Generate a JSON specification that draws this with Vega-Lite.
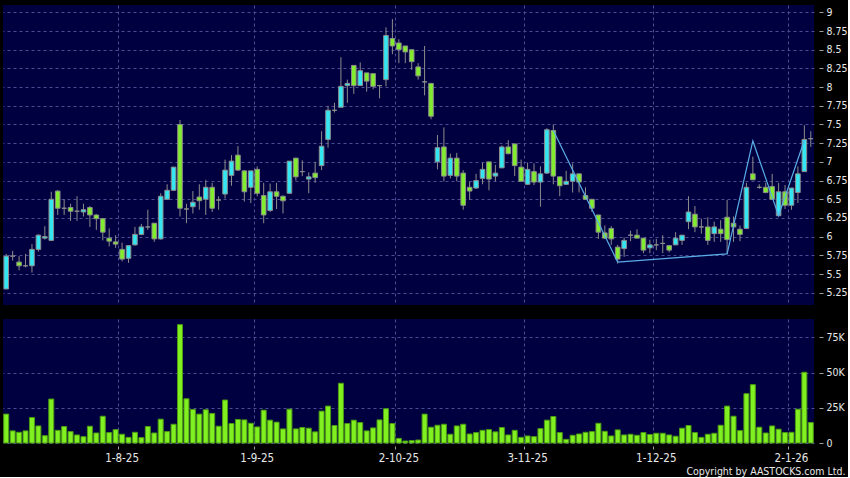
{
  "$schema": "https://vega.github.io/schema/vega-lite/v6.json",
  "background": "#000000",
  "padding": {"left": 3, "top": 5, "right": 0, "bottom": 0},
  "spacing": 14,
  "config": {
    "font": "DejaVu Sans Condensed",
    "view": {"fill": "#000040", "stroke": null},
    "axis": {"labelFont": "DejaVu Sans Condensed", "labelColor": "#e8e8e8", "gridColor": "#4c4c94", "gridDash": [3, 3], "gridWidth": 1, "domain": false, "tickColor": "#a0a0a0", "labelOverlap": false}
  },
  "data": {"values": [
    {"date": "8-7-25", "open": 5.30, "high": 5.77, "low": 5.30, "close": 5.74, "volume": 20500},
    {"date": "9-7-25", "open": 5.74, "high": 5.81, "low": 5.68, "close": 5.74, "volume": 8600},
    {"date": "10-7-25", "open": 5.66, "high": 5.74, "low": 5.55, "close": 5.61, "volume": 7600},
    {"date": "11-7-25", "open": 5.61, "high": 5.77, "low": 5.59, "close": 5.61, "volume": 8600},
    {"date": "14-7-25", "open": 5.61, "high": 5.90, "low": 5.52, "close": 5.83, "volume": 18100},
    {"date": "15-7-25", "open": 5.83, "high": 6.03, "low": 5.80, "close": 6.02, "volume": 12100},
    {"date": "16-7-25", "open": 5.98, "high": 6.14, "low": 5.96, "close": 6.00, "volume": 5200},
    {"date": "17-7-25", "open": 5.95, "high": 6.60, "low": 5.94, "close": 6.50, "volume": 31200},
    {"date": "18-7-25", "open": 6.61, "high": 6.62, "low": 6.29, "close": 6.38, "volume": 9000},
    {"date": "21-7-25", "open": 6.38, "high": 6.50, "low": 6.29, "close": 6.38, "volume": 11700},
    {"date": "22-7-25", "open": 6.39, "high": 6.44, "low": 6.21, "close": 6.34, "volume": 8100},
    {"date": "23-7-25", "open": 6.34, "high": 6.54, "low": 6.21, "close": 6.34, "volume": 5700},
    {"date": "24-7-25", "open": 6.33, "high": 6.44, "low": 6.27, "close": 6.36, "volume": 4500},
    {"date": "25-7-25", "open": 6.39, "high": 6.41, "low": 6.13, "close": 6.29, "volume": 11900},
    {"date": "28-7-25", "open": 6.29, "high": 6.30, "low": 6.09, "close": 6.24, "volume": 7100},
    {"date": "29-7-25", "open": 6.24, "high": 6.25, "low": 5.95, "close": 6.06, "volume": 19000},
    {"date": "30-7-25", "open": 5.98, "high": 6.11, "low": 5.87, "close": 5.94, "volume": 7400},
    {"date": "31-7-25", "open": 5.93, "high": 6.02, "low": 5.85, "close": 5.90, "volume": 9500},
    {"date": "1-8-25", "open": 5.83, "high": 5.92, "low": 5.67, "close": 5.70, "volume": 6200},
    {"date": "4-8-25", "open": 5.71, "high": 5.88, "low": 5.65, "close": 5.88, "volume": 4000},
    {"date": "5-8-25", "open": 5.89, "high": 6.13, "low": 5.88, "close": 6.03, "volume": 7600},
    {"date": "6-8-25", "open": 6.03, "high": 6.17, "low": 6.02, "close": 6.13, "volume": 3800},
    {"date": "7-8-25", "open": 6.13, "high": 6.36, "low": 6.09, "close": 6.13, "volume": 11700},
    {"date": "8-8-25", "open": 6.18, "high": 6.18, "low": 5.93, "close": 5.97, "volume": 7100},
    {"date": "11-8-25", "open": 5.97, "high": 6.58, "low": 5.96, "close": 6.54, "volume": 16900},
    {"date": "12-8-25", "open": 6.50, "high": 6.70, "low": 6.49, "close": 6.62, "volume": 8100},
    {"date": "13-8-25", "open": 6.62, "high": 6.93, "low": 6.61, "close": 6.93, "volume": 13300},
    {"date": "14-8-25", "open": 7.50, "high": 7.56, "low": 6.27, "close": 6.38, "volume": 84000},
    {"date": "15-8-25", "open": 6.37, "high": 6.44, "low": 6.18, "close": 6.37, "volume": 31400},
    {"date": "18-8-25", "open": 6.40, "high": 6.61, "low": 6.31, "close": 6.46, "volume": 23800},
    {"date": "19-8-25", "open": 6.53, "high": 6.70, "low": 6.36, "close": 6.48, "volume": 20500},
    {"date": "20-8-25", "open": 6.50, "high": 6.76, "low": 6.29, "close": 6.66, "volume": 23600},
    {"date": "21-8-25", "open": 6.66, "high": 6.72, "low": 6.33, "close": 6.38, "volume": 21000},
    {"date": "22-8-25", "open": 6.49, "high": 6.54, "low": 6.36, "close": 6.49, "volume": 11900},
    {"date": "25-8-25", "open": 6.57, "high": 7.03, "low": 6.51, "close": 6.89, "volume": 30500},
    {"date": "26-8-25", "open": 6.82, "high": 7.09, "low": 6.68, "close": 7.01, "volume": 13800},
    {"date": "27-8-25", "open": 7.09, "high": 7.21, "low": 6.88, "close": 6.89, "volume": 16700},
    {"date": "28-8-25", "open": 6.88, "high": 6.89, "low": 6.47, "close": 6.60, "volume": 16400},
    {"date": "29-8-25", "open": 6.66, "high": 6.88, "low": 6.45, "close": 6.88, "volume": 14000},
    {"date": "1-9-25", "open": 6.90, "high": 6.94, "low": 6.54, "close": 6.58, "volume": 11400},
    {"date": "2-9-25", "open": 6.55, "high": 6.72, "low": 6.18, "close": 6.29, "volume": 23300},
    {"date": "3-9-25", "open": 6.35, "high": 6.71, "low": 6.33, "close": 6.60, "volume": 16200},
    {"date": "4-9-25", "open": 6.60, "high": 6.72, "low": 6.37, "close": 6.54, "volume": 14800},
    {"date": "5-9-25", "open": 6.54, "high": 6.55, "low": 6.31, "close": 6.48, "volume": 10000},
    {"date": "8-9-25", "open": 6.58, "high": 7.01, "low": 6.57, "close": 7.01, "volume": 24000},
    {"date": "9-9-25", "open": 7.05, "high": 7.05, "low": 6.75, "close": 6.80, "volume": 10000},
    {"date": "10-9-25", "open": 6.87, "high": 7.02, "low": 6.81, "close": 6.87, "volume": 11000},
    {"date": "11-9-25", "open": 6.77, "high": 6.86, "low": 6.58, "close": 6.80, "volume": 10500},
    {"date": "12-9-25", "open": 6.85, "high": 7.00, "low": 6.72, "close": 6.79, "volume": 7900},
    {"date": "15-9-25", "open": 6.95, "high": 7.41, "low": 6.89, "close": 7.21, "volume": 22600},
    {"date": "16-9-25", "open": 7.30, "high": 7.75, "low": 7.19, "close": 7.69, "volume": 26200},
    {"date": "17-9-25", "open": 7.69, "high": 7.79, "low": 7.66, "close": 7.69, "volume": 12400},
    {"date": "18-9-25", "open": 7.73, "high": 8.40, "low": 7.73, "close": 8.01, "volume": 42400},
    {"date": "19-9-25", "open": 8.02, "high": 8.10, "low": 7.79, "close": 8.05, "volume": 13800},
    {"date": "22-9-25", "open": 8.29, "high": 8.29, "low": 7.91, "close": 8.02, "volume": 16200},
    {"date": "23-9-25", "open": 8.02, "high": 8.33, "low": 8.02, "close": 8.22, "volume": 14500},
    {"date": "24-9-25", "open": 8.19, "high": 8.19, "low": 7.94, "close": 8.08, "volume": 8600},
    {"date": "25-9-25", "open": 8.18, "high": 8.18, "low": 7.97, "close": 8.01, "volume": 10700},
    {"date": "26-9-25", "open": 8.02, "high": 8.02, "low": 7.85, "close": 8.02, "volume": 16400},
    {"date": "29-9-25", "open": 8.10, "high": 8.80, "low": 8.01, "close": 8.69, "volume": 24300},
    {"date": "30-9-25", "open": 8.65, "high": 8.91, "low": 8.44, "close": 8.55, "volume": 13800},
    {"date": "2-10-25", "open": 8.59, "high": 8.64, "low": 8.32, "close": 8.50, "volume": 3300},
    {"date": "3-10-25", "open": 8.55, "high": 8.55, "low": 8.32, "close": 8.47, "volume": 1400},
    {"date": "6-10-25", "open": 8.50, "high": 8.50, "low": 8.23, "close": 8.34, "volume": 1700},
    {"date": "8-10-25", "open": 8.27, "high": 8.32, "low": 8.10, "close": 8.15, "volume": 2100},
    {"date": "9-10-25", "open": 8.07, "high": 8.55, "low": 7.89, "close": 8.07, "volume": 20500},
    {"date": "10-10-25", "open": 8.05, "high": 8.05, "low": 7.57, "close": 7.61, "volume": 11200},
    {"date": "13-10-25", "open": 7.00, "high": 7.36, "low": 6.90, "close": 7.19, "volume": 12600},
    {"date": "14-10-25", "open": 7.20, "high": 7.46, "low": 6.74, "close": 6.81, "volume": 13300},
    {"date": "15-10-25", "open": 6.82, "high": 7.11, "low": 6.78, "close": 7.05, "volume": 6200},
    {"date": "16-10-25", "open": 7.05, "high": 7.12, "low": 6.74, "close": 6.81, "volume": 12100},
    {"date": "17-10-25", "open": 6.85, "high": 6.89, "low": 6.36, "close": 6.42, "volume": 13300},
    {"date": "20-10-25", "open": 6.66, "high": 6.74, "low": 6.49, "close": 6.61, "volume": 6400},
    {"date": "21-10-25", "open": 6.65, "high": 6.84, "low": 6.64, "close": 6.75, "volume": 7400},
    {"date": "22-10-25", "open": 6.78, "high": 6.99, "low": 6.70, "close": 6.90, "volume": 9000},
    {"date": "23-10-25", "open": 7.00, "high": 7.00, "low": 6.62, "close": 6.77, "volume": 9500},
    {"date": "24-10-25", "open": 6.81, "high": 6.96, "low": 6.74, "close": 6.85, "volume": 7900},
    {"date": "27-10-25", "open": 6.92, "high": 7.22, "low": 6.92, "close": 7.20, "volume": 11000},
    {"date": "28-10-25", "open": 7.20, "high": 7.29, "low": 7.10, "close": 7.11, "volume": 5700},
    {"date": "30-10-25", "open": 7.24, "high": 7.24, "low": 6.81, "close": 6.95, "volume": 9000},
    {"date": "31-10-25", "open": 6.93, "high": 7.03, "low": 6.74, "close": 6.74, "volume": 4000},
    {"date": "3-11-25", "open": 6.70, "high": 6.99, "low": 6.69, "close": 6.90, "volume": 5000},
    {"date": "4-11-25", "open": 6.87, "high": 6.98, "low": 6.69, "close": 6.73, "volume": 4500},
    {"date": "5-11-25", "open": 6.73, "high": 6.94, "low": 6.40, "close": 6.84, "volume": 10200},
    {"date": "6-11-25", "open": 6.85, "high": 7.45, "low": 6.84, "close": 7.43, "volume": 16200},
    {"date": "7-11-25", "open": 7.42, "high": 7.50, "low": 6.70, "close": 6.81, "volume": 18800, "zz": 7.42},
    {"date": "10-11-25", "open": 6.80, "high": 6.80, "low": 6.54, "close": 6.68, "volume": 7400},
    {"date": "11-11-25", "open": 6.70, "high": 6.88, "low": 6.69, "close": 6.74, "volume": 2600},
    {"date": "12-11-25", "open": 6.74, "high": 6.98, "low": 6.59, "close": 6.84, "volume": 5500},
    {"date": "13-11-25", "open": 6.84, "high": 6.84, "low": 6.59, "close": 6.73, "volume": 6400},
    {"date": "14-11-25", "open": 6.55, "high": 6.66, "low": 6.50, "close": 6.50, "volume": 7600},
    {"date": "17-11-25", "open": 6.50, "high": 6.50, "low": 6.33, "close": 6.38, "volume": 8100},
    {"date": "18-11-25", "open": 6.29, "high": 6.29, "low": 5.97, "close": 6.06, "volume": 14000},
    {"date": "19-11-25", "open": 6.05, "high": 6.15, "low": 5.97, "close": 5.98, "volume": 8300},
    {"date": "20-11-25", "open": 6.11, "high": 6.14, "low": 5.89, "close": 5.97, "volume": 5000},
    {"date": "21-11-25", "open": 5.86, "high": 5.89, "low": 5.64, "close": 5.70, "volume": 9300, "zz": 5.66},
    {"date": "24-11-25", "open": 5.84, "high": 5.99, "low": 5.73, "close": 5.95, "volume": 5700},
    {"date": "25-11-25", "open": 6.02, "high": 6.08, "low": 5.94, "close": 6.02, "volume": 6200},
    {"date": "26-11-25", "open": 6.02, "high": 6.10, "low": 5.98, "close": 5.98, "volume": 5500},
    {"date": "27-11-25", "open": 5.98, "high": 5.98, "low": 5.78, "close": 5.82, "volume": 7400},
    {"date": "28-11-25", "open": 5.85, "high": 5.96, "low": 5.78, "close": 5.89, "volume": 6000},
    {"date": "1-12-25", "open": 5.89, "high": 5.97, "low": 5.82, "close": 5.89, "volume": 6900},
    {"date": "2-12-25", "open": 5.91, "high": 6.02, "low": 5.78, "close": 5.91, "volume": 6900},
    {"date": "3-12-25", "open": 5.88, "high": 5.88, "low": 5.79, "close": 5.82, "volume": 5700},
    {"date": "4-12-25", "open": 5.89, "high": 6.06, "low": 5.89, "close": 5.98, "volume": 4800},
    {"date": "5-12-25", "open": 5.95, "high": 6.02, "low": 5.89, "close": 6.02, "volume": 10500},
    {"date": "8-12-25", "open": 6.20, "high": 6.54, "low": 6.10, "close": 6.33, "volume": 12400},
    {"date": "9-12-25", "open": 6.30, "high": 6.41, "low": 6.06, "close": 6.13, "volume": 7400},
    {"date": "10-12-25", "open": 6.13, "high": 6.24, "low": 6.04, "close": 6.13, "volume": 4000},
    {"date": "11-12-25", "open": 6.13, "high": 6.26, "low": 5.89, "close": 5.95, "volume": 6200},
    {"date": "12-12-25", "open": 6.04, "high": 6.20, "low": 5.93, "close": 6.13, "volume": 6900},
    {"date": "15-12-25", "open": 6.10, "high": 6.22, "low": 5.93, "close": 6.04, "volume": 12600},
    {"date": "16-12-25", "open": 6.26, "high": 6.49, "low": 5.77, "close": 5.96, "volume": 26200, "zz": 5.77},
    {"date": "17-12-25", "open": 6.18, "high": 6.27, "low": 5.93, "close": 6.13, "volume": 19000},
    {"date": "18-12-25", "open": 6.10, "high": 6.15, "low": 5.94, "close": 6.03, "volume": 8800},
    {"date": "19-12-25", "open": 6.11, "high": 6.72, "low": 6.10, "close": 6.66, "volume": 35000},
    {"date": "22-12-25", "open": 6.84, "high": 7.07, "low": 6.76, "close": 6.76, "volume": 41400, "zz": 7.28},
    {"date": "23-12-25", "open": 6.66, "high": 6.70, "low": 6.64, "close": 6.66, "volume": 11200},
    {"date": "24-12-25", "open": 6.66, "high": 6.72, "low": 6.58, "close": 6.59, "volume": 7100},
    {"date": "29-12-25", "open": 6.67, "high": 6.84, "low": 6.50, "close": 6.50, "volume": 12100},
    {"date": "30-12-25", "open": 6.28, "high": 6.72, "low": 6.28, "close": 6.60, "volume": 9800, "zz": 6.28},
    {"date": "31-12-25", "open": 6.60, "high": 6.69, "low": 6.37, "close": 6.42, "volume": 7400},
    {"date": "2-1-26", "open": 6.42, "high": 6.65, "low": 6.36, "close": 6.65, "volume": 7600},
    {"date": "5-1-26", "open": 6.59, "high": 6.94, "low": 6.45, "close": 6.84, "volume": 24000},
    {"date": "6-1-26", "open": 6.87, "high": 7.49, "low": 6.87, "close": 7.30, "volume": 50200, "zz": 7.29},
    {"date": "7-1-26", "open": 7.31, "high": 7.41, "low": 7.20, "close": 7.31, "volume": 14500}
  ]},
  "vconcat": [
    {
      "width": 811,
      "height": 300,
      "encoding": {
        "x": {"field": "date", "type": "ordinal", "sort": null,
          "scale": {"paddingInner": 0, "paddingOuter": 0},
          "axis": {"values": ["1-8-25", "1-9-25", "2-10-25", "3-11-25", "1-12-25", "2-1-26"], "bandPosition": 0, "grid": true, "labels": false, "ticks": false, "title": null}}
      },
      "layer": [
        {
          "mark": {"type": "rule", "color": "#8c8c8c", "strokeWidth": 1},
          "encoding": {
            "y": {"field": "low", "type": "quantitative", "title": null,
              "scale": {"domain": [5.086, 9.098], "nice": false, "zero": false},
              "axis": {"orient": "right", "values": [5.25, 5.5, 5.75, 6, 6.25, 6.5, 6.75, 7, 7.25, 7.5, 7.75, 8, 8.25, 8.5, 8.75, 9], "tickCount": 40, "labelExpr": "'' + datum.value", "grid": true, "tickSize": 4, "offset": 5, "labelPadding": 3, "labelFontSize": 10.5, "labelOverlap": false, "title": null}},
            "y2": {"field": "high"}
          }
        },
        {
          "mark": {"type": "bar", "size": 4.6, "stroke": "#8c8c8c", "strokeWidth": 1},
          "encoding": {
            "y": {"field": "open", "type": "quantitative", "title": null},
            "y2": {"field": "close"},
            "color": {"condition": [{"test": "datum.close > datum.open", "value": "#33e6f2"}, {"test": "datum.close == datum.open", "value": "#8c8c8c"}], "value": "#82ec2e"}
          }
        },
        {
          "transform": [{"filter": "datum.zz != null"}],
          "mark": {"type": "line", "color": "#5aaee8", "strokeWidth": 1.2},
          "encoding": {
            "y": {"field": "zz", "type": "quantitative", "title": null}
          }
        }
      ]
    },
    {
      "width": 811,
      "height": 124,
      "mark": {"type": "bar", "size": 5, "fill": "#80f020", "stroke": "#4c9a12", "strokeWidth": 1},
      "encoding": {
        "x": {"field": "date", "type": "ordinal", "sort": null,
          "scale": {"paddingInner": 0, "paddingOuter": 0},
          "axis": {"values": ["1-8-25", "1-9-25", "2-10-25", "3-11-25", "1-12-25", "2-1-26"], "bandPosition": 0, "grid": true, "labelAngle": 0, "labelFontSize": 11.5, "tickSize": 3, "offset": 3, "labelPadding": 3,
            "title": "Copyright by AASTOCKS.com Ltd.", "titleAnchor": "end", "titleAlign": "right", "titleBaseline": "alphabetic", "titleX": 842, "titleY": 28, "titleFontSize": 10.5, "titleFontWeight": "normal", "titleColor": "#e8e8e8", "titleFont": "DejaVu Sans Condensed"}},
        "y": {"field": "volume", "type": "quantitative",
          "scale": {"domain": [0, 88000], "nice": false},
          "axis": {"orient": "right", "values": [0, 25000, 50000, 75000], "tickCount": 10, "labelExpr": "datum.value == 0 ? '0' : (datum.value / 1000) + 'K'", "grid": true, "tickSize": 4, "offset": 5, "labelPadding": 3, "labelFontSize": 10.5, "labelOverlap": false, "title": null}}
      }
    }
  ]
}
